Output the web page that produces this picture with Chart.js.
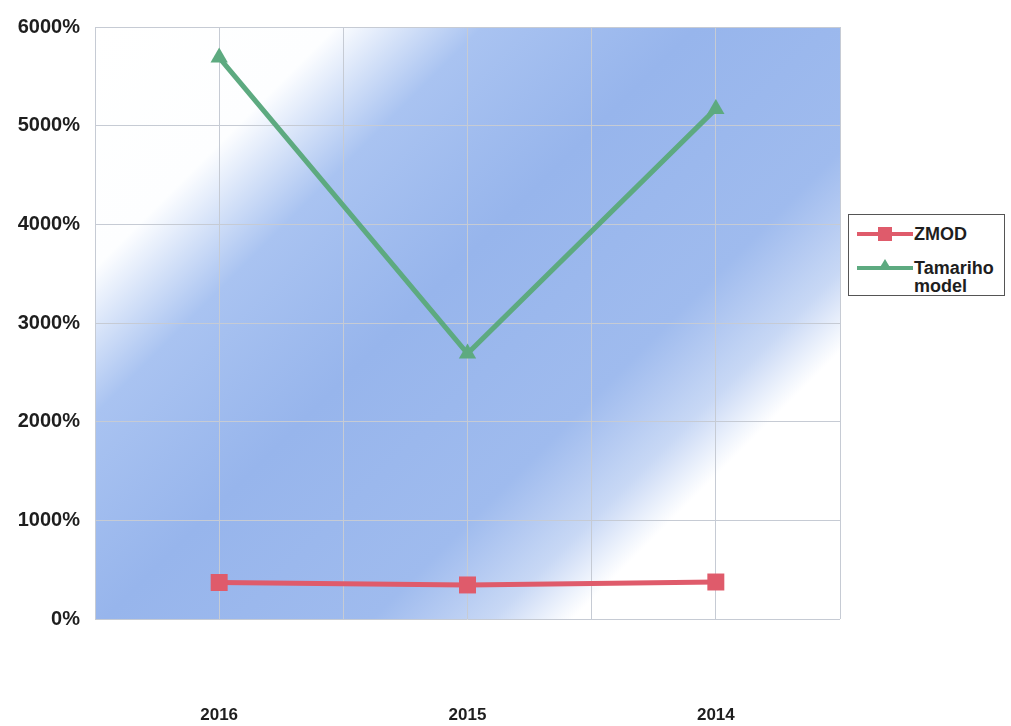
<!DOCTYPE html>
<html>
<head>
<meta charset="utf-8">
<script src="https://cdn.jsdelivr.net/npm/chart.js@4"></script>
<style>
  body { margin: 0; background: #fff; }
  #wrap { position: relative; width: 1011px; height: 726px; }
  #legend {
    position: absolute; left: 848px; top: 214px; width: 155px; height: 80px;
    border: 1px solid #555; background: #fff;
    font: bold 18px "Liberation Sans", Arial, sans-serif; color: #1e1e1e;
  }
  .item { position: absolute; left: 8px; }
  .line { position: absolute; left: 0; width: 56px; height: 4px; }
  .txt { position: absolute; left: 57px; line-height: 18px; white-space: nowrap; }
</style>
</head>
<body>
<div id="wrap">
  <canvas id="myChart" width="1011" height="726"></canvas>
  <div id="legend">
    <div class="item" style="top:10px">
      <div class="line" style="top:7px;background:#df5b6b"></div>
      <div style="position:absolute;left:21px;top:2px;width:14px;height:14px;background:#df5b6b"></div>
      <div class="txt" style="top:0">ZMOD</div>
    </div>
    <div class="item" style="top:44px">
      <div class="line" style="top:7px;background:#5daa80"></div>
      <div style="position:absolute;left:22px;top:0;width:0;height:0;border-left:6px solid transparent;border-right:6px solid transparent;border-bottom:10px solid #5daa80"></div>
      <div class="txt" style="top:0">Tamariho<br>model</div>
    </div>
  </div>
</div>
<script>
const years = ["2016", "2015", "2014"];
const zmod = [370, 345, 375];
const tamariho = [5690, 2690, 5170];
const yTicks = [0, 1000, 2000, 3000, 4000, 5000, 6000];

const ctx = document.getElementById("myChart").getContext("2d");

// diagonal blue band behind the plot
const blueBackground = {
  id: "blueBackground",
  beforeDraw(chart) {
    const { ctx, chartArea } = chart;
    const { left, top, right, bottom } = chartArea;
    const L = ((right - left) + (bottom - top)) / 2;
    let g = ctx.createLinearGradient(left, top, left + L, top + L);
    g.addColorStop(0, "#ffffff");
    g.addColorStop(0.18, "#fdfeff");
    g.addColorStop(0.29, "#a9c3f1");
    g.addColorStop(0.45, "#97b5ec");
    g.addColorStop(0.65, "#9fbbee");
    g.addColorStop(0.74, "#c8d8f5");
    g.addColorStop(0.8, "#ffffff");
    g.addColorStop(1, "#ffffff");
    ctx.save();
    ctx.fillStyle = g;
    ctx.fillRect(left, top, right - left, bottom - top);
    ctx.restore();
  },
};

const myChart = new Chart(ctx, {
  type: "line",
  data: {
    datasets: [
      {
        label: "ZMOD",
        data: zmod.map((v, i) => ({ x: i, y: v })),
        borderColor: "#df5b6b",
        backgroundColor: "#df5b6b",
        borderWidth: 5,
        pointStyle: "rect",
        pointRadius: 12,
        pointBorderWidth: 0,
      },
      {
        label: "Tamariho model",
        data: tamariho.map((v, i) => ({ x: i, y: v })),
        borderColor: "#5daa80",
        backgroundColor: "#5daa80",
        borderWidth: 5,
        pointStyle: "triangle",
        pointRadius: 10,
        pointBorderWidth: 0,
      },
    ],
  },
  options: {
    responsive: false,
    animation: false,
    layout: { padding: { top: 25, right: 171, bottom: 0, left: 0 } },
    plugins: { legend: { display: false }, tooltip: { enabled: false } },
    scales: {
      x: {
        type: "linear",
        min: -0.5,
        max: 2.5,
        grid: { color: "#c6cbd4", drawTicks: false },
        border: { display: false },
        afterBuildTicks: (scale) => {
          scale.ticks = [-0.5, 0, 0.5, 1, 1.5, 2, 2.5].map((v) => ({ value: v }));
        },
        afterFit: (scale) => { scale.height = 107; },
        ticks: {
          padding: 86,
          autoSkip: false,
          maxRotation: 0,
          color: "#1e1e1e",
          font: { family: "Liberation Sans", size: 17, weight: "bold" },
          callback: (v) => (Number.isInteger(v) ? years[v] : ""),
        },
      },
      y: {
        min: 0,
        max: 6000,
        grid: { color: "#c6cbd4", drawTicks: false },
        border: { display: false },
        afterBuildTicks: (scale) => {
          scale.ticks = yTicks.map((v) => ({ value: v }));
        },
        afterFit: (scale) => { scale.width = 95; },
        ticks: {
          padding: 15,
          color: "#1e1e1e",
          font: { family: "Liberation Sans", size: 20, weight: "bold" },
          callback: (v) => v + "%",
        },
      },
    },
  },
  plugins: [blueBackground],
});
</script>
</body>
</html>
